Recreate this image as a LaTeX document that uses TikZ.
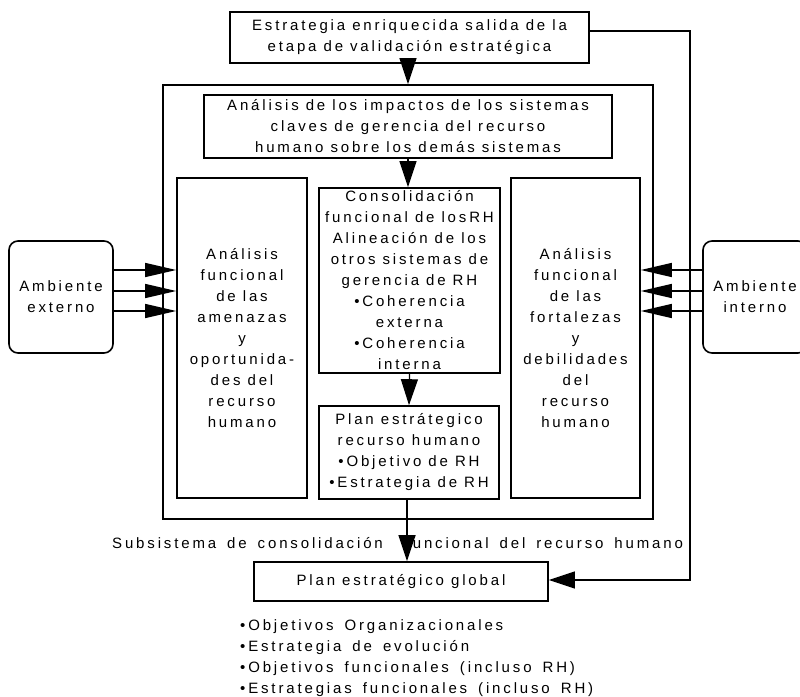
\documentclass[tikz,border=0pt]{standalone}
\usepackage{fontspec}
\setmainfont{Liberation Sans}[LetterSpace=19]
\usepackage{tikz}
\usetikzlibrary{arrows.meta,positioning}

\newcommand{\txtfont}{\fontsize{15}{21}\selectfont}
\newcommand{\labelfont}{\txtfont\spaceskip=11pt\relax}
\newcommand{\listfont}{\txtfont\spaceskip=11pt\relax}

\tikzset{
  stagebox/.style={
    rectangle, draw=black, line width=1.6pt,
    inner sep=0pt, align=center, font=\txtfont
  },
  envbox/.style={
    stagebox, rounded corners=9pt
  },
  flowarrow/.style={
    -{Triangle[length=26pt,width=17pt]}, line width=1.3pt
  },
  sidearrow/.style={
    -{Triangle[length=31pt,width=14pt]}, line width=1.3pt
  },
  labeltext/.style={
    font=\labelfont, inner sep=0pt
  },
  listtext/.style={
    font=\listfont, inner sep=0pt, align=left
  },
}

\begin{document}
\begin{tikzpicture}[x=1pt,y=-1pt]
  \useasboundingbox (0,0) rectangle (800,696);

  % Subsystem frame
  \node[stagebox, minimum width=490pt, minimum height=434pt] (subsys) at (408,302) {};

  % Input from validation stage
  \node[stagebox, minimum width=359pt, minimum height=51pt] (estr) at (409.5,37.5)
    {Estrategia enriquecida salida de la\\etapa de validación estratégica};

  \node[stagebox, minimum width=408pt, minimum height=63pt] (impact) at (408,126.5)
    {Análisis de los impactos de los sistemas\\claves de gerencia del recurso\\humano sobre los demás sistemas};

  % Functional analysis columns
  \node[stagebox, minimum width=130pt, minimum height=320pt] (amen) at (242,338)
    {Análisis\\funcional\\de las\\amenazas\\y\\oportunida-\\des del\\recurso\\humano};
  \node[stagebox, minimum width=129pt, minimum height=320pt] (fort) at (575.5,338)
    {Análisis\\funcional\\de las\\fortalezas\\y\\debilidades\\del\\recurso\\humano};

  \node[stagebox, minimum width=181pt, minimum height=185pt] (consol) at (409.5,280.5)
    {Consolidación\\funcional de losRH\\Alineación de los\\otros sistemas de\\gerencia de RH\\•Coherencia\\externa\\•Coherencia\\interna};
  \node[stagebox, minimum width=180pt, minimum height=93pt] (planrh) at (409,452.5)
    {Plan estrátegico\\recurso humano\\•Objetivo de RH\\•Estrategia de RH};

  % Environments
  \node[envbox, minimum width=104pt, minimum height=112pt] (externo) at (61,297)
    {Ambiente\\externo};
  \node[envbox, minimum width=104pt, minimum height=112pt] (interno) at (755,297)
    {Ambiente\\interno};

  \node[labeltext, anchor=west] (sublabel) at (112,543)
    {Subsistema de consolidación\hspace{12pt} funcional del recurso humano};

  \node[stagebox, minimum width=294pt, minimum height=39pt] (global) at (401,581.5)
    {Plan estratégico global};
  \node[listtext, anchor=north west] (globlist) at (240,619)
    {•Objetivos Organizacionales\\•Estrategia de evolución\\•Objetivos funcionales (incluso RH)\\•Estrategias funcionales (incluso RH)};

  \coordinate (fbtop) at (690,31);
  \coordinate (fbbot) at (690,580);

  \draw[flowarrow] (estr.south -| subsys.north) -- (subsys.north);
  \draw[flowarrow] (impact.south) -- (impact.south |- consol.north);
  \draw[flowarrow] (consol.south) -- (planrh.north);
  \draw[flowarrow] (planrh.south -| 407,0) -- (global.north -| 407,0);
  \draw[flowarrow] (estr.east |- fbtop) -- (fbtop) -- (fbbot) -- (global.east |- fbbot);

  \foreach \y in {270,291,311} {
    \draw[sidearrow] (externo.east |- 0,\y) -- (amen.west |- 0,\y);
    \draw[sidearrow] (interno.west |- 0,\y) -- (fort.east |- 0,\y);
  }
\end{tikzpicture}
\end{document}
